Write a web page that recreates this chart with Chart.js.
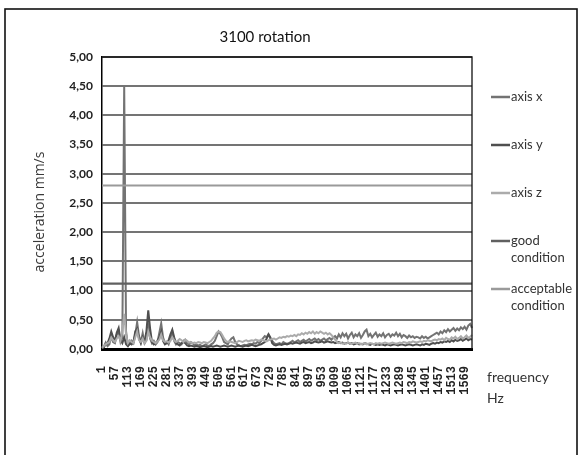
<!DOCTYPE html>
<html>
<head>
<meta charset="utf-8">
<script src="https://cdn.jsdelivr.net/npm/chart.js@4.4.1/dist/chart.umd.min.js"></script>
<style>
  html, body { margin: 0; padding: 0; background: #ffffff; }
  #wrap { position: relative; width: 578px; height: 455px; }
</style>
</head>
<body>
<div id="wrap"><canvas id="c"></canvas></div>
<script>
// ---- data ----
const chartTitle = '3100 rotation';
const yAxisTitle = 'acceleration mm/s';
const xAxisTitle = ['frequency', 'Hz'];
// frequency categories (Hz), one every 8 Hz
const frequencies = Array.from({ length: 201 }, (_, i) => String(1 + 8 * i));
// labels shown on the category axis
const tickLabels = ['1','57','113','169','225','281','337','393','449','505','561','617','673','729','785','841','897','953','1009','1065','1121','1177','1233','1289','1345','1401','1457','1513','1569'];
const yTicks = [0, 0.5, 1, 1.5, 2, 2.5, 3, 3.5, 4, 4.5, 5];

const axisX = [
  0.02,0.04,0.11,0.05,0.08,0.22,0.12,0.10,0.25,0.30,
  0.12,0.20,4.50,0.30,0.06,0.08,0.14,0.10,0.25,0.46,
  0.22,0.12,0.27,0.10,0.15,0.40,0.18,0.10,0.14,0.08,
  0.12,0.28,0.44,0.20,0.10,0.12,0.08,0.18,0.30,0.14,
  0.08,0.12,0.10,0.08,0.14,0.16,0.10,0.08,0.12,0.10,
  0.06,0.08,0.06,0.07,0.05,0.06,0.08,0.06,0.05,0.08,
  0.10,0.14,0.22,0.30,0.26,0.20,0.12,0.10,0.08,0.14,
  0.18,0.20,0.12,0.08,0.06,0.05,0.06,0.07,0.06,0.08,
  0.09,0.08,0.10,0.09,0.12,0.10,0.14,0.18,0.22,0.20,
  0.25,0.18,0.14,0.10,0.08,0.09,0.10,0.08,0.12,0.10,
  0.09,0.10,0.12,0.14,0.11,0.13,0.15,0.12,0.14,0.16,
  0.13,0.15,0.17,0.14,0.16,0.18,0.15,0.17,0.14,0.16,
  0.18,0.15,0.17,0.19,0.16,0.20,0.22,0.18,0.25,0.20,
  0.27,0.22,0.26,0.18,0.24,0.28,0.20,0.25,0.22,0.27,
  0.19,0.24,0.30,0.33,0.22,0.26,0.20,0.24,0.28,0.21,
  0.25,0.22,0.27,0.20,0.24,0.26,0.21,0.25,0.23,0.28,
  0.22,0.26,0.20,0.24,0.22,0.19,0.23,0.20,0.22,0.19,
  0.21,0.20,0.18,0.22,0.19,0.21,0.18,0.20,0.22,0.24,
  0.26,0.28,0.25,0.30,0.27,0.32,0.29,0.34,0.30,0.33,
  0.36,0.31,0.35,0.32,0.37,0.34,0.38,0.33,0.40,0.43,
  0.36
];
const axisY = [
  0.01,0.03,0.08,0.10,0.18,0.30,0.20,0.14,0.28,0.36,
  0.15,0.10,0.20,0.08,0.05,0.10,0.08,0.12,0.30,0.35,
  0.18,0.10,0.20,0.12,0.30,0.66,0.35,0.12,0.08,0.10,
  0.14,0.20,0.30,0.14,0.08,0.10,0.15,0.25,0.33,0.20,
  0.10,0.08,0.06,0.10,0.12,0.10,0.06,0.05,0.06,0.05,
  0.04,0.05,0.04,0.03,0.04,0.05,0.04,0.03,0.04,0.05,
  0.04,0.05,0.06,0.05,0.04,0.05,0.06,0.05,0.04,0.05,
  0.06,0.05,0.04,0.05,0.06,0.05,0.04,0.05,0.06,0.05,
  0.06,0.07,0.06,0.05,0.06,0.07,0.08,0.10,0.12,0.18,
  0.25,0.20,0.10,0.07,0.06,0.07,0.08,0.07,0.08,0.09,
  0.08,0.09,0.10,0.09,0.10,0.11,0.10,0.09,0.11,0.12,
  0.10,0.11,0.12,0.10,0.11,0.13,0.12,0.11,0.12,0.13,
  0.11,0.12,0.13,0.12,0.11,0.12,0.10,0.11,0.12,0.10,
  0.11,0.09,0.10,0.11,0.09,0.10,0.08,0.09,0.10,0.08,
  0.09,0.08,0.10,0.09,0.08,0.07,0.09,0.08,0.07,0.08,
  0.07,0.08,0.07,0.06,0.08,0.07,0.06,0.07,0.08,0.07,
  0.06,0.07,0.08,0.07,0.06,0.07,0.08,0.07,0.06,0.07,
  0.08,0.07,0.06,0.08,0.07,0.09,0.08,0.07,0.09,0.10,
  0.09,0.11,0.10,0.12,0.11,0.13,0.12,0.14,0.12,0.15,
  0.13,0.16,0.14,0.15,0.17,0.14,0.16,0.18,0.15,0.17,
  0.16
];
const axisZ = [
  0.02,0.05,0.08,0.10,0.12,0.20,0.15,0.12,0.18,0.22,
  0.14,0.30,0.60,0.25,0.10,0.15,0.12,0.10,0.20,0.30,
  0.15,0.12,0.18,0.10,0.14,0.30,0.20,0.14,0.12,0.10,
  0.13,0.16,0.25,0.15,0.12,0.13,0.11,0.14,0.20,0.15,
  0.12,0.14,0.17,0.15,0.12,0.16,0.14,0.11,0.12,0.10,
  0.11,0.10,0.12,0.11,0.10,0.12,0.11,0.10,0.12,0.14,
  0.18,0.22,0.28,0.30,0.29,0.24,0.18,0.14,0.12,0.13,
  0.12,0.11,0.10,0.12,0.14,0.13,0.12,0.14,0.15,0.13,
  0.14,0.15,0.14,0.16,0.15,0.14,0.16,0.15,0.14,0.13,
  0.15,0.16,0.17,0.18,0.16,0.18,0.20,0.19,0.21,0.20,
  0.22,0.21,0.23,0.22,0.24,0.22,0.25,0.24,0.27,0.25,
  0.28,0.26,0.29,0.27,0.30,0.26,0.29,0.27,0.30,0.28,
  0.26,0.28,0.25,0.27,0.24,0.20,0.16,0.12,0.10,0.11,
  0.09,0.10,0.09,0.11,0.10,0.09,0.10,0.11,0.09,0.10,
  0.08,0.09,0.10,0.08,0.09,0.10,0.09,0.08,0.10,0.09,
  0.10,0.09,0.10,0.11,0.10,0.09,0.10,0.11,0.10,0.09,
  0.10,0.11,0.10,0.12,0.11,0.10,0.12,0.11,0.13,0.12,
  0.11,0.12,0.13,0.12,0.14,0.13,0.15,0.14,0.13,0.15,
  0.16,0.15,0.17,0.16,0.18,0.15,0.19,0.17,0.16,0.20,
  0.18,0.21,0.17,0.19,0.22,0.18,0.20,0.23,0.19,0.21,
  0.24
];
const goodCondition = 1.12;
const acceptableCondition = 2.80;

// ---- chart ----
const condFont = "Lato, 'Roboto', sans-serif";
const first = frequencies[0], last = frequencies[frequencies.length - 1];

const extras = {
  id: 'extras',
  afterDraw(chart) {
    const ctx = chart.ctx;
    const a = chart.chartArea;
    ctx.save();
    // outer frame
    ctx.strokeStyle = '#111';
    ctx.lineWidth = 1.6;
    ctx.strokeRect(5, 9, 572, 460);
    // plot top and right border
    ctx.lineWidth = 1.3;
    ctx.beginPath();
    ctx.moveTo(a.left, a.top); ctx.lineTo(a.right, a.top); ctx.lineTo(a.right, a.bottom);
    ctx.stroke();
    // title
    ctx.fillStyle = '#111';
    ctx.font = "15px " + condFont;
    ctx.textAlign = 'center'; ctx.textBaseline = 'middle';
    ctx.fillText(chartTitle, 265, 37);
    // y axis title
    ctx.save();
    ctx.translate(40, 212);
    ctx.rotate(-Math.PI / 2);
    ctx.fillStyle = '#3a3a3a';
    ctx.font = "14px 'Open Sans', sans-serif";
    ctx.fillText(yAxisTitle, 0, 0);
    ctx.restore();
    // x axis title
    ctx.textAlign = 'left';
    ctx.fillStyle = '#333';
    ctx.font = "14px " + condFont;
    ctx.fillText(xAxisTitle[0], 487, 377);
    ctx.fillText(xAxisTitle[1], 487, 398);
    // legend
    ctx.font = "13px " + condFont;
    let y = 97;
    chart.data.datasets.forEach(ds => {
      ctx.strokeStyle = ds.borderColor;
      ctx.lineWidth = 2.5;
      ctx.beginPath(); ctx.moveTo(491, y); ctx.lineTo(510, y); ctx.stroke();
      const lines = ds.label.indexOf('axis') !== 0
        ? [ds.label.slice(0, ds.label.lastIndexOf(' ')), ds.label.slice(ds.label.lastIndexOf(' ') + 1)]
        : [ds.label];
      ctx.fillStyle = '#333';
      lines.forEach((t, k) => ctx.fillText(t, 511, y + k * 17));
      y += 48;
    });
    ctx.restore();
  }
};

new Chart(document.getElementById('c'), {
  type: 'line',
  data: {
    labels: frequencies,
    datasets: [
      { label: 'axis x', data: axisX, borderColor: '#737373', borderWidth: 2, order: 4 },
      { label: 'axis y', data: axisY, borderColor: '#4f4f4f', borderWidth: 2, order: 3 },
      { label: 'axis z', data: axisZ, borderColor: '#ababab', borderWidth: 2, order: 2 },
      { label: 'good condition', data: [{ x: first, y: goodCondition }, { x: last, y: goodCondition }], borderColor: '#606060', borderWidth: 2.2, order: 1 },
      { label: 'acceptable condition', data: [{ x: first, y: acceptableCondition }, { x: last, y: acceptableCondition }], borderColor: '#9a9a9a', borderWidth: 2.2, order: 0 }
    ]
  },
  options: {
    responsive: true,
    maintainAspectRatio: false,
    animation: false,
    devicePixelRatio: 1,
    layout: { padding: { left: 0, top: 57, right: 106, bottom: 0 } },
    elements: { point: { radius: 0 }, line: { tension: 0 } },
    plugins: { legend: { display: false }, title: { display: false }, tooltip: { enabled: false } },
    scales: {
      x: {
        type: 'category',
        offset: false,
        grid: { display: false, drawTicks: false },
        border: { display: true, color: '#000', width: 3 },
        afterBuildTicks: s => { s.ticks = s.ticks.filter(t => tickLabels.includes(frequencies[t.value])); },
        afterFit: s => { s.height = 106; },
        ticks: {
          autoSkip: false, minRotation: 90, maxRotation: 90, padding: 17,
          color: '#222',
          font: { family: "'Liberation Mono', 'DejaVu Sans Mono', monospace", size: 12, weight: 'bold' }
        }
      },
      y: {
        min: 0, max: 5,
        afterBuildTicks: s => { s.ticks = yTicks.map(v => ({ value: v })); },
        afterFit: s => { s.width = 102; },
        grid: { color: '#747474', lineWidth: 2, drawTicks: false },
        border: { display: true, color: '#000', width: 1.5 },
        ticks: {
          padding: 9, color: '#222',
          font: { family: condFont, size: 12, weight: 'bold' },
          callback: v => v.toFixed(2).replace('.', ',')
        }
      }
    }
  },
  plugins: [extras]
});
</script>
</body>
</html>
